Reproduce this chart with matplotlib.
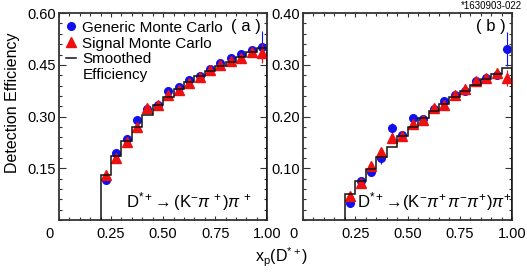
import matplotlib.pyplot as plt
import matplotlib.transforms as mtransforms
from matplotlib.lines import Line2D
from matplotlib.ticker import MultipleLocator

plt.rcParams['font.family'] = ['Liberation Sans', 'DejaVu Sans']
plt.rcParams['mathtext.fontset'] = 'custom'
plt.rcParams['mathtext.rm'] = 'Liberation Sans'
plt.rcParams['mathtext.it'] = 'Liberation Sans:italic'
plt.rcParams['mathtext.bf'] = 'Liberation Sans:bold'

# x_p bins (width 0.05 from 0.2 to 1.0)
bin_edges = [0.20, 0.25, 0.30, 0.35, 0.40, 0.45, 0.50, 0.55, 0.60,
             0.65, 0.70, 0.75, 0.80, 0.85, 0.90, 0.95, 1.00]
bin_centers = [0.225, 0.275, 0.325, 0.375, 0.425, 0.475, 0.525, 0.575,
               0.625, 0.675, 0.725, 0.775, 0.825, 0.875, 0.925, 0.975]

# (a) D*+ -> (K- pi+) pi+
generic_a = [0.116, 0.193, 0.234, 0.290, 0.322, 0.334, 0.373, 0.387,
             0.406, 0.419, 0.439, 0.454, 0.469, 0.481, 0.494, 0.502]
generic_a_err = [0.005, 0.005, 0.005, 0.006, 0.005, 0.005, 0.005, 0.005,
                 0.005, 0.005, 0.005, 0.005, 0.006, 0.007, 0.010, 0.045]
signal_a = [0.131, 0.180, 0.227, 0.271, 0.324, 0.335, 0.362, 0.377,
            0.398, 0.416, 0.434, 0.451, 0.461, 0.470, 0.488, 0.484]
signal_a_err = [0.005, 0.005, 0.005, 0.005, 0.005, 0.005, 0.005, 0.005,
                0.005, 0.005, 0.005, 0.005, 0.006, 0.007, 0.010, 0.030]
smooth_a = [0.130, 0.185, 0.230, 0.270, 0.304, 0.334, 0.358, 0.381,
            0.400, 0.418, 0.433, 0.447, 0.459, 0.472, 0.486, 0.499]

# (b) D*+ -> (K- pi+ pi- pi+) pi+
generic_b = [0.032, 0.075, 0.093, 0.119, 0.177, 0.164, 0.198, 0.196,
             0.214, 0.230, 0.242, 0.249, 0.269, 0.274, 0.280, 0.330]
generic_b_err = [0.004, 0.005, 0.005, 0.010, 0.010, 0.005, 0.005, 0.005,
                 0.005, 0.005, 0.005, 0.005, 0.005, 0.005, 0.006, 0.033]
signal_b = [0.047, 0.071, 0.105, 0.131, 0.158, 0.162, 0.186, 0.193,
            0.216, 0.222, 0.242, 0.254, 0.268, 0.274, 0.285, 0.275]
signal_b_err = [0.004, 0.005, 0.005, 0.006, 0.008, 0.005, 0.005, 0.005,
                0.005, 0.005, 0.005, 0.005, 0.005, 0.005, 0.006, 0.015]
smooth_b = [0.050, 0.075, 0.099, 0.121, 0.142, 0.162, 0.179, 0.197,
            0.211, 0.224, 0.237, 0.249, 0.261, 0.272, 0.283, 0.294]

x_ticks = [0, 0.25, 0.50, 0.75, 1.00]
x_ticklabels = ['0', '0.25', '0.50', '0.75', '1.00']
y_ticks_a = [0.15, 0.30, 0.45, 0.60]
y_ticks_b = [0.10, 0.20, 0.30, 0.40]

BLUE = '#1010ee'
RED = '#ee1010'
FRAME = '#333333'

fig = plt.figure(figsize=(5.27, 2.74), dpi=100)
ax_a = fig.add_axes([0.112, 0.197, 0.395, 0.755])
ax_b = fig.add_axes([0.575, 0.197, 0.397, 0.755])


def draw_panel(ax, generic, generic_err, signal, signal_err, smooth,
               ymax, y_ticks, y_minor):
    ax.errorbar(bin_centers, generic, yerr=generic_err, fmt='o', color=BLUE,
                ms=5.5, elinewidth=0.8, capsize=0, zorder=2)
    ax.errorbar(bin_centers, signal, yerr=signal_err, fmt='^', color=RED,
                ms=7.5, elinewidth=0.8, capsize=0, zorder=3)
    ax.stairs(smooth, bin_edges, baseline=0, color='#111111', lw=1.1,
              zorder=4)

    ax.set_xlim(0, 1.0)
    ax.set_ylim(0, ymax)
    ax.set_xticks(x_ticks)
    ax.set_xticklabels(x_ticklabels)
    ax.xaxis.set_minor_locator(MultipleLocator(0.05))
    ax.set_yticks(y_ticks)
    ax.set_yticklabels([f'{v:.2f}' for v in y_ticks])
    ax.yaxis.set_minor_locator(MultipleLocator(y_minor))

    ax.tick_params(which='both', direction='in', top=True, right=True,
                   color=FRAME, width=0.8, labelsize=10.5)
    ax.tick_params(axis='y', which='major', length=5, pad=2)
    ax.tick_params(axis='y', which='minor', length=2.5)
    ax.tick_params(axis='x', which='major', length=3, pad=5)
    ax.tick_params(axis='x', which='minor', length=2.5)
    for sp in ax.spines.values():
        sp.set_color(FRAME)
        sp.set_linewidth(1.3)

    # the "0" at the corner sits left of the frame
    lab0 = ax.xaxis.get_major_ticks()[0].label1
    lab0.set_transform(lab0.get_transform() + mtransforms.ScaledTranslation(
        -7 / 72, 0, fig.dpi_scale_trans))


draw_panel(ax_a, generic_a, generic_a_err, signal_a, signal_a_err, smooth_a,
           0.60, y_ticks_a, 0.03)
draw_panel(ax_b, generic_b, generic_b_err, signal_b, signal_b_err, smooth_b,
           0.40, y_ticks_b, 0.02)

handles = [
    Line2D([], [], ls='none', marker='o', color=BLUE, ms=5.5),
    Line2D([], [], ls='none', marker='^', color=RED, ms=7.5),
    Line2D([], [], ls='-', color='#111111', lw=1.1),
    Line2D([], [], ls='none'),
]
ax_a.legend(handles, ['Generic Monte Carlo', 'Signal Monte Carlo',
                      'Smoothed', 'Efficiency'],
            loc='upper left', bbox_to_anchor=(-0.02, 1.015), frameon=False,
            fontsize=11, handlelength=0.7, handletextpad=0.4,
            labelspacing=0.12, borderaxespad=0.3)

ax_a.text(0.90, 0.935, '( a )', transform=ax_a.transAxes, fontsize=12,
          ha='center', va='center')
ax_b.text(0.90, 0.935, '( b )', transform=ax_b.transAxes, fontsize=12,
          ha='center', va='center')

ax_a.text(0.32, 0.09,
          r'$\mathregular{D^{*+}\!\rightarrow (K^{-}}\pi^{\,+}\mathregular{)}\pi^{\,+}$',
          transform=ax_a.transAxes, fontsize=12, ha='left', va='center')
ax_b.text(0.26, 0.09,
          r'$\mathregular{D^{*+}\!\rightarrow\!(K^{-}}\pi^{+}\,\pi^{-}\pi^{+}\mathregular{)}\pi^{+}$',
          transform=ax_b.transAxes, fontsize=12, ha='left', va='center')

fig.text(0.023, 0.626, 'Detection Efficiency', rotation=90, fontsize=11.5,
         ha='center', va='center')
fig.text(0.535, 0.062, r'$\mathregular{x_p(D^{*+})}$', fontsize=11.5,
         ha='center', va='center')
fig.text(0.99, 0.995, '*1630903-022', fontsize=7, ha='right', va='top')

fig.savefig('out.png', dpi=100)
